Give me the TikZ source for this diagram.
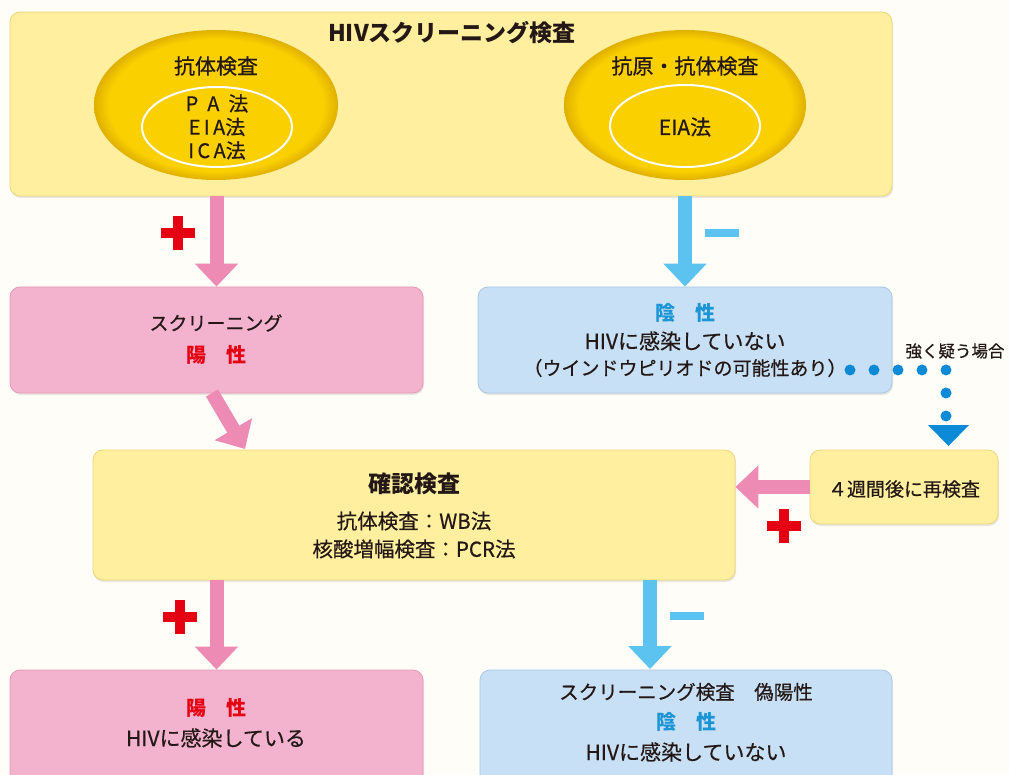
\documentclass[tikz,border=0pt]{standalone}
\usepackage{fontspec}
\setmainfont{Noto Sans CJK JP}
\newfontfamily\mdf{Noto Sans CJK JP}[FakeBold=0.5]
\usetikzlibrary{arrows.meta,shadows,shapes.geometric}
\definecolor{bg}{HTML}{FEFDF7}
\definecolor{ylw}{HTML}{FFEF9F}
\definecolor{ylwd}{HTML}{F0D67A}
\definecolor{gold}{HTML}{FAD000}
\definecolor{goldd}{HTML}{E0B000}
\definecolor{pinkbox}{HTML}{F3B3CE}
\definecolor{pinkd}{HTML}{E49AB9}
\definecolor{pinkarr}{HTML}{EE8BB4}
\definecolor{bluebox}{HTML}{C8E0F5}
\definecolor{blued}{HTML}{A8C8E6}
\definecolor{bluearr}{HTML}{5CC3F0}
\definecolor{bluedot}{HTML}{0A8AD7}
\definecolor{redc}{HTML}{E50012}
\definecolor{bluet}{HTML}{1C95D6}
\definecolor{txt}{HTML}{231815}
\pgfdeclareradialshading{goldball}{\pgfpoint{0bp}{0bp}}{color(0bp)=(gold); color(22bp)=(gold); color(25bp)=(goldd); color(50bp)=(goldd)}
\tikzset{
  basebox/.style={rounded corners=10pt, inner sep=0pt, align=center, text=txt,
    drop shadow={opacity=0.18, shadow xshift=1pt, shadow yshift=-2pt}},
  ybox/.style={basebox, fill=ylw, draw=ylwd, line width=0.8pt},
  pbox/.style={basebox, fill=pinkbox, draw=pinkd, line width=0.8pt},
  bbox/.style={basebox, fill=bluebox, draw=blued, line width=0.8pt},
  gell/.style={ellipse, shading=goldball, inner sep=0pt},
  wring/.style={ellipse, draw=white, line width=2pt, inner sep=0pt},
  lbl/.style={text=txt, inner sep=0pt, align=center, font=\mdf\fontsize{19}{23.5}\selectfont},
  big/.style={font=\mdf\fontsize{21}{25}\selectfont},
  pa/.style={draw=pinkarr, line width=14pt, -{Triangle[width=42pt,length=23pt]}},
  ba/.style={draw=bluearr, line width=14pt, -{Triangle[width=42pt,length=23pt]}},
  plussign/.pic={\fill[redc] (-17,-5) rectangle (17,5); \fill[redc] (-5,-17) rectangle (5,17);},
  minussign/.pic={\fill[bluearr] (-17,-4) rectangle (17,4);}
}
\begin{document}
\begin{tikzpicture}[x=1pt,y=-1pt]
\fill[bg] (0,0) rectangle (1009,775);
\useasboundingbox (0,0) rectangle (1009,775);
\clip (0,0) rectangle (1009,775);

% top screening box
\node[ybox, minimum width=882pt, minimum height=184pt] (top) at (451,104) {};
\node[lbl, font=\bfseries\fontsize{23}{27}\selectfont] (title) at (452,33) {HIVスクリーニング検査};

\node[gell, minimum width=244pt, minimum height=150pt] (el1) at (216,105) {};
\node[wring, minimum width=150pt, minimum height=80pt] (in1) at (217,127) {};
\node[lbl, font=\mdf\fontsize{21}{25}\selectfont] (el1t) at (216,66) {抗体検査};
\node[lbl, font=\mdf\fontsize{20}{23.5}\selectfont] (in1t) at (217,127) {P\hspace{0.45em}A\hspace{0.45em}法\\E\,I\,A法\\I\,C\,A法};

\node[gell, minimum width=242pt, minimum height=150pt] (el2) at (685,105) {};
\node[wring, minimum width=150pt, minimum height=82pt] (in2) at (685,126) {};
\node[lbl, font=\mdf\fontsize{21}{25}\selectfont] (el2t) at (685,66) {抗原・抗体検査};
\node[lbl, font=\mdf\fontsize{21}{25}\selectfont] (in2t) at (685,127) {EIA法};

% second row
\node[pbox, minimum width=413pt, minimum height=106pt] (pk) at (216.5,340) {};
\node[lbl] (pkt1) at (216,323) {スクリーニング};
\node[lbl, text=redc, font=\bfseries\fontsize{20}{24}\selectfont] (pkt2) at (216,355) {陽　性};

\node[bbox, minimum width=414pt, minimum height=106pt] (bl) at (685,340) {};
\node[lbl, text=bluet, font=\bfseries\fontsize{20}{24}\selectfont] (blt1) at (685,313) {陰　性};
\node[lbl, big] (blt2) at (685,341) {HIVに感染していない};
\node[lbl] (blt3) at (685,368) {（ウインドウピリオドの可能性あり）};

% confirm box and re-test box
\node[ybox, minimum width=642pt, minimum height=130pt] (conf) at (414,515) {};
\node[lbl, font=\bfseries\fontsize{23}{27}\selectfont] (conft1) at (414,484) {確認検査};
\node[lbl, font=\mdf\fontsize{20.5}{25}\selectfont] (conft2) at (414,521) {抗体検査：WB法};
\node[lbl, font=\mdf\fontsize{20.5}{25}\selectfont] (conft3) at (414,549) {核酸増幅検査：PCR法};

\node[ybox, minimum width=188pt, minimum height=74pt] (re) at (904,487) {};
\node[lbl] (ret) at (904,489) {４週間後に再検査};

% bottom row
\node[pbox, minimum width=413pt, minimum height=120pt] (pk2) at (216.5,730) {};
\node[lbl, text=redc, font=\bfseries\fontsize{20}{24}\selectfont] (pk2t1) at (216,708) {陽　性};
\node[lbl, big] (pk2t2) at (216,738) {HIVに感染している};

\node[bbox, minimum width=412pt, minimum height=120pt] (bl2) at (686,730) {};
\node[lbl, font=\mdf\fontsize{19.5}{24}\selectfont] (bl2t1) at (686,692) {スクリーニング検査　偽陽性};
\node[lbl, text=bluet, font=\bfseries\fontsize{20}{24}\selectfont] (bl2t2) at (686,722) {陰　性};
\node[lbl, big] (bl2t3) at (686,752) {HIVに感染していない};

% arrows
\draw[pa] (top.south -| pk.north) -- (pk.north);
\draw[ba] (top.south -| bl.north) -- (bl.north);
\coordinate (d1) at (212,393);
\coordinate (d2) at (245,449);
\draw[pa] (d1) -- (d2);
\draw[pa] (re.west) -- (conf.east |- re.west);
\draw[pa] (conf.south -| pk2.north) -- (pk2.north);
\coordinate (c2) at (650,580);
\coordinate (c3) at (650,669);
\draw[ba] (c2) -- (c3);

% signs
\pic at (178,233) {plussign};
\pic at (722,233) {minussign};
\pic at (784,526) {plussign};
\pic at (180,617) {plussign};
\pic at (687,616) {minussign};

% dotted path
\foreach \x in {850,874,898,922,946} \fill[bluedot] (\x,370) circle (5.5);
\fill[bluedot] (946,393) circle (5.5);
\fill[bluedot] (946,416) circle (5.5);
\fill[bluedot] (928,425) -- (969,425) -- (948.5,446) -- cycle;
\node[lbl, font=\mdf\fontsize{16.5}{20}\selectfont] (susp) at (955,351) {強く疑う場合};
\end{tikzpicture}
\end{document}
